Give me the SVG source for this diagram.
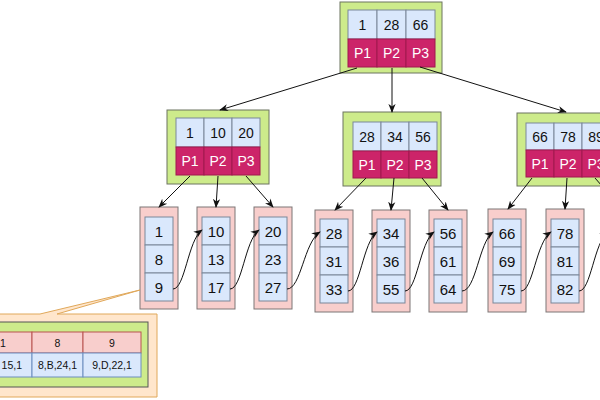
<svg xmlns="http://www.w3.org/2000/svg" width="600" height="400" viewBox="0 0 600 400">
<style>
.nd{fill:#cdeb8b;stroke:#6d7560;stroke-width:1}
.k{fill:#dae8fc;stroke:#7b8799;stroke-width:1}
.p{fill:#cc2469;stroke:#a0194f;stroke-width:1}
.lf{fill:#f8cecc;stroke:#7d7676;stroke-width:1}
.t{font-family:"Liberation Sans",Arial,sans-serif;font-size:14px;fill:#111;text-anchor:middle;dominant-baseline:central}
.tl{font-family:"Liberation Sans",Arial,sans-serif;font-size:15px;fill:#111;text-anchor:middle;dominant-baseline:central}
.tp{font-family:"Liberation Sans",Arial,sans-serif;font-size:14px;fill:#fff;text-anchor:middle;dominant-baseline:central}
.ts{font-family:"Liberation Sans",Arial,sans-serif;font-size:10.5px;fill:#111;text-anchor:middle;dominant-baseline:central}
.e{fill:none;stroke:#111;stroke-width:1;marker-end:url(#a)}
</style>
<defs>
<marker id="a" viewBox="0 0 10 10" refX="9" refY="5" markerWidth="9" markerHeight="9" markerUnits="userSpaceOnUse" orient="auto">
<path d="M0,1 L10,5 L0,9 L3,5 z" fill="#111"/>
</marker>
</defs>

<g id="root">
<rect class="nd" x="340" y="2" width="102" height="71"/>
<rect class="k" x="348" y="10" width="29" height="29"/><rect class="k" x="377" y="10" width="29" height="29"/><rect class="k" x="406" y="10" width="29" height="29"/>
<rect class="p" x="348" y="39" width="29" height="28"/><rect class="p" x="377" y="39" width="29" height="28"/><rect class="p" x="406" y="39" width="29" height="28"/>
<text class="t" x="362.5" y="24.5">1</text><text class="t" x="391.5" y="24.5">28</text><text class="t" x="420.5" y="24.5">66</text>
<text class="tp" x="362.5" y="53">P1</text><text class="tp" x="391.5" y="53">P2</text><text class="tp" x="420.5" y="53">P3</text>
</g>

<g id="n-left">
<rect class="nd" x="167" y="110" width="102" height="74"/>
<rect class="k" x="176" y="118" width="28" height="29"/><rect class="k" x="204" y="118" width="28" height="29"/><rect class="k" x="232" y="118" width="28" height="29"/>
<rect class="p" x="176" y="147" width="28" height="28"/><rect class="p" x="204" y="147" width="28" height="28"/><rect class="p" x="232" y="147" width="28" height="28"/>
<text class="t" x="190" y="132.5">1</text><text class="t" x="218" y="132.5">10</text><text class="t" x="246" y="132.5">20</text>
<text class="tp" x="190" y="161">P1</text><text class="tp" x="218" y="161">P2</text><text class="tp" x="246" y="161">P3</text>
</g>

<g id="n-mid">
<rect class="nd" x="343" y="112" width="98" height="74"/>
<rect class="k" x="353" y="122" width="28" height="29"/><rect class="k" x="381" y="122" width="28" height="29"/><rect class="k" x="409" y="122" width="28" height="29"/>
<rect class="p" x="353" y="151" width="28" height="27"/><rect class="p" x="381" y="151" width="28" height="27"/><rect class="p" x="409" y="151" width="28" height="27"/>
<text class="t" x="367" y="136.5">28</text><text class="t" x="395" y="136.5">34</text><text class="t" x="423" y="136.5">56</text>
<text class="tp" x="367" y="164.5">P1</text><text class="tp" x="395" y="164.5">P2</text><text class="tp" x="423" y="164.5">P3</text>
</g>

<g id="n-right">
<rect class="nd" x="517" y="113" width="102" height="73"/>
<rect class="k" x="526" y="123" width="28" height="27"/><rect class="k" x="554" y="123" width="28" height="27"/><rect class="k" x="582" y="123" width="28" height="27"/>
<rect class="p" x="526" y="150" width="28" height="27"/><rect class="p" x="554" y="150" width="28" height="27"/><rect class="p" x="582" y="150" width="28" height="27"/>
<text class="t" x="540" y="136.5">66</text><text class="t" x="568" y="136.5">78</text><text class="t" x="596" y="136.5">89</text>
<text class="tp" x="540" y="163.5">P1</text><text class="tp" x="568" y="163.5">P2</text><text class="tp" x="596" y="163.5">P3</text>
</g>

<g id="leaf1">
<rect class="lf" x="140" y="207" width="38" height="102"/>
<rect class="k" x="145" y="217" width="28" height="28"/><rect class="k" x="145" y="245" width="28" height="28"/><rect class="k" x="145" y="273" width="28" height="28"/>
<text class="tl" x="159" y="231">1</text><text class="tl" x="159" y="259">8</text><text class="tl" x="159" y="287">9</text>
</g>
<g id="leaf2">
<rect class="lf" x="197" y="207" width="38" height="102"/>
<rect class="k" x="202" y="217" width="28" height="28"/><rect class="k" x="202" y="245" width="28" height="28"/><rect class="k" x="202" y="273" width="28" height="28"/>
<text class="tl" x="216" y="231">10</text><text class="tl" x="216" y="259">13</text><text class="tl" x="216" y="287">17</text>
</g>
<g id="leaf3">
<rect class="lf" x="254" y="207" width="38" height="102"/>
<rect class="k" x="259" y="217" width="28" height="28"/><rect class="k" x="259" y="245" width="28" height="28"/><rect class="k" x="259" y="273" width="28" height="28"/>
<text class="tl" x="273" y="231">20</text><text class="tl" x="273" y="259">23</text><text class="tl" x="273" y="287">27</text>
</g>
<g id="leaf4">
<rect class="lf" x="315" y="210" width="38" height="102"/>
<rect class="k" x="320" y="219" width="28" height="28"/><rect class="k" x="320" y="247" width="28" height="28"/><rect class="k" x="320" y="275" width="28" height="28"/>
<text class="tl" x="334" y="233">28</text><text class="tl" x="334" y="261">31</text><text class="tl" x="334" y="289">33</text>
</g>
<g id="leaf5">
<rect class="lf" x="372" y="210" width="38" height="102"/>
<rect class="k" x="377" y="219" width="28" height="28"/><rect class="k" x="377" y="247" width="28" height="28"/><rect class="k" x="377" y="275" width="28" height="28"/>
<text class="tl" x="391" y="233">34</text><text class="tl" x="391" y="261">36</text><text class="tl" x="391" y="289">55</text>
</g>
<g id="leaf6">
<rect class="lf" x="429" y="210" width="38" height="102"/>
<rect class="k" x="434" y="219" width="28" height="28"/><rect class="k" x="434" y="247" width="28" height="28"/><rect class="k" x="434" y="275" width="28" height="28"/>
<text class="tl" x="448" y="233">56</text><text class="tl" x="448" y="261">61</text><text class="tl" x="448" y="289">64</text>
</g>
<g id="leaf7">
<rect class="lf" x="488" y="209" width="38" height="103"/>
<rect class="k" x="493" y="219" width="28" height="28"/><rect class="k" x="493" y="247" width="28" height="28"/><rect class="k" x="493" y="275" width="28" height="28"/>
<text class="tl" x="507" y="233">66</text><text class="tl" x="507" y="261">69</text><text class="tl" x="507" y="289">75</text>
</g>
<g id="leaf8">
<rect class="lf" x="546" y="209" width="38" height="103"/>
<rect class="k" x="551" y="219" width="28" height="28"/><rect class="k" x="551" y="247" width="28" height="28"/><rect class="k" x="551" y="275" width="28" height="28"/>
<text class="tl" x="565" y="233">78</text><text class="tl" x="565" y="261">81</text><text class="tl" x="565" y="289">82</text>
</g>

<g id="detail">
<path d="M-10,314 L40,314 L140,290 L57,314 L157,314 L157,397 L-10,397 Z" fill="#ffe6cc" stroke="#e0a85a" stroke-width="1"/>
<rect x="-10" y="322" width="158" height="65" fill="#cdeb8b" stroke="#555" stroke-width="1"/>
<rect x="-26" y="332" width="58" height="21" fill="#f8cecc" stroke="#b85450"/>
<rect x="32" y="332" width="51" height="21" fill="#f8cecc" stroke="#b85450"/>
<rect x="83" y="332" width="58" height="21" fill="#f8cecc" stroke="#b85450"/>
<rect x="-26" y="353" width="58" height="24" fill="#dae8fc" stroke="#6c8ebf"/>
<rect x="32" y="353" width="51" height="24" fill="#dae8fc" stroke="#6c8ebf"/>
<rect x="83" y="353" width="58" height="24" fill="#dae8fc" stroke="#6c8ebf"/>
<text class="ts" x="3" y="342.5">1</text><text class="ts" x="57.5" y="342.5">8</text><text class="ts" x="112" y="342.5">9</text>
<text class="ts" x="22" y="365" style="text-anchor:end">15,1</text><text class="ts" x="57.5" y="365">8,B,24,1</text><text class="ts" x="112" y="365">9,D,22,1</text>
</g>

<g id="connectors">
<path class="e" d="M357,68 L220,110"/>
<path class="e" d="M392,68 L392,112"/>
<path class="e" d="M420,67 L566,112"/>
<path class="e" d="M190,176 L159,207"/>
<path class="e" d="M218,176 L216,207"/>
<path class="e" d="M246,176 L273,207"/>
<path class="e" d="M366,178 L335,210"/>
<path class="e" d="M394,178 L391,210"/>
<path class="e" d="M422,178 L448,210"/>
<path class="e" d="M532,178 L508,209"/>
<path class="e" d="M567,178 L565,209"/>
<path class="e" d="M595,178 L622,209"/>
<path class="e" d="M173,289 C185,289 188,240 202,230"/>
<path class="e" d="M230,289 C242,289 245,240 259,230"/>
<path class="e" d="M287,289 C301,289 304,242 320,232"/>
<path class="e" d="M348,291 C360,291 363,242 377,232"/>
<path class="e" d="M405,291 C417,291 420,242 434,232"/>
<path class="e" d="M462,291 C476,291 479,242 493,232"/>
<path class="e" d="M521,291 C533,291 536,242 551,232"/>
<path class="e" d="M579,291 C591,291 594,242 608,232"/>
</g>
</svg>
